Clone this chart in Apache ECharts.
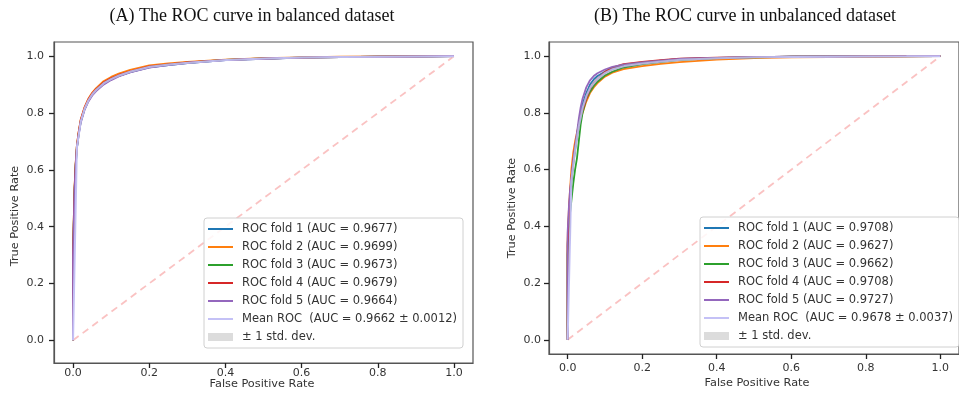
<!DOCTYPE html>
<html><head><meta charset="utf-8">
<script src="https://cdn.jsdelivr.net/npm/echarts@6/dist/echarts.min.js"></script>
<style>html,body{margin:0;padding:0;background:#fff;}#c{width:959px;height:396px;}</style>
</head><body><div id="c"></div>
<script>
// ---------- tick labels ----------
const xTicks = [0, 0.2, 0.4, 0.6, 0.8, 1.0];
const yTicks = [0, 0.2, 0.4, 0.6, 0.8, 1.0];

// mean ROC is sampled on an evenly spaced FPR grid (0, 0.0101, ...)
const meanFpr = [0, 0.0101, 0.0202, 0.0303, 0.0404, 0.0505, 0.0606, 0.0808, 0.101, 0.121, 0.152, 0.202, 0.253, 0.303, 0.404, 0.505, 0.606, 0.707, 0.808, 0.909, 1.0];

// ---------- panel A: balanced dataset ----------
const titleA = '(A) The ROC curve in balanced dataset';
const namesA = ['ROC fold 1 (AUC = 0.9677)', 'ROC fold 2 (AUC = 0.9699)', 'ROC fold 3 (AUC = 0.9673)',
                'ROC fold 4 (AUC = 0.9679)', 'ROC fold 5 (AUC = 0.9664)'];
const meanNameA = 'Mean ROC  (AUC = 0.9662 \u00b1 0.0012)';
const fprA  = [0, 0, 0.002, 0.004, 0.007, 0.01, 0.015, 0.02, 0.03, 0.04, 0.05, 0.06, 0.08, 0.1, 0.12, 0.15, 0.2, 0.25, 0.3, 0.4, 0.5, 0.6, 0.7, 0.8, 0.9, 1.0];
const tprA1 = [0, 0.29, 0.41, 0.52, 0.615, 0.675, 0.728, 0.768, 0.813, 0.843, 0.864, 0.879, 0.903, 0.918, 0.931, 0.944, 0.961, 0.969, 0.976, 0.986, 0.991, 0.995, 0.997, 0.998, 0.999, 1];
const tprA2 = [0, 0.31, 0.43, 0.54, 0.625, 0.685, 0.735, 0.775, 0.82, 0.85, 0.871, 0.887, 0.912, 0.927, 0.939, 0.952, 0.968, 0.975, 0.98, 0.988, 0.993, 0.996, 0.998, 0.999, 1, 1];
const tprA3 = [0, 0.30, 0.42, 0.53, 0.62, 0.68, 0.73, 0.77, 0.814, 0.844, 0.864, 0.879, 0.904, 0.919, 0.931, 0.945, 0.962, 0.97, 0.977, 0.987, 0.992, 0.995, 0.997, 0.998, 0.999, 1];
const tprA4 = [0, 0.31, 0.43, 0.535, 0.625, 0.685, 0.735, 0.775, 0.818, 0.848, 0.868, 0.883, 0.907, 0.922, 0.934, 0.947, 0.964, 0.971, 0.978, 0.987, 0.992, 0.995, 0.997, 0.998, 0.999, 1];
const tprA5 = [0, 0.29, 0.41, 0.525, 0.615, 0.675, 0.725, 0.765, 0.81, 0.84, 0.861, 0.876, 0.9, 0.916, 0.929, 0.943, 0.96, 0.969, 0.976, 0.986, 0.991, 0.995, 0.997, 0.998, 0.999, 1];
const meanA = [0, 0.68, 0.77, 0.815, 0.845, 0.866, 0.881, 0.905, 0.92, 0.932, 0.946, 0.963, 0.971, 0.977, 0.987, 0.992, 0.995, 0.997, 0.998, 0.999, 1];
const stdA  = [0, 0.005, 0.004, 0.004, 0.004, 0.004, 0.004, 0.004, 0.004, 0.004, 0.003, 0.003, 0.003, 0.002, 0.001, 0.001, 0.001, 0.001, 0.001, 0.001, 0];

// ---------- panel B: unbalanced dataset ----------
const titleB = '(B) The ROC curve in unbalanced dataset';
const namesB = ['ROC fold 1 (AUC = 0.9708)', 'ROC fold 2 (AUC = 0.9627)', 'ROC fold 3 (AUC = 0.9662)',
                'ROC fold 4 (AUC = 0.9708)', 'ROC fold 5 (AUC = 0.9727)'];
const meanNameB = 'Mean ROC  (AUC = 0.9678 \u00b1 0.0037)';
const fprB  = [0, 0, 0.003, 0.006, 0.01, 0.015, 0.02, 0.025, 0.03, 0.035, 0.04, 0.05, 0.06, 0.07, 0.08, 0.1, 0.12, 0.15, 0.2, 0.25, 0.3, 0.4, 0.5, 0.6, 0.8, 1.0];
const tprB1 = [0, 0.34, 0.43, 0.50, 0.56, 0.62, 0.67, 0.72, 0.76, 0.80, 0.83, 0.87, 0.9, 0.918, 0.93, 0.945, 0.958, 0.968, 0.977, 0.984, 0.99, 0.994, 0.997, 0.998, 0.999, 1];
const tprB2 = [0, 0.36, 0.45, 0.52, 0.6, 0.66, 0.7, 0.73, 0.76, 0.78, 0.8, 0.84, 0.87, 0.89, 0.905, 0.928, 0.942, 0.954, 0.965, 0.973, 0.979, 0.988, 0.993, 0.996, 0.998, 1];
const tprB3 = [0, 0.3, 0.38, 0.44, 0.49, 0.55, 0.6, 0.64, 0.7, 0.76, 0.8, 0.85, 0.875, 0.895, 0.91, 0.932, 0.945, 0.96, 0.972, 0.98, 0.987, 0.993, 0.996, 0.998, 0.999, 1];
const tprB4 = [0, 0.33, 0.42, 0.5, 0.57, 0.63, 0.68, 0.72, 0.76, 0.79, 0.81, 0.85, 0.885, 0.905, 0.92, 0.945, 0.96, 0.972, 0.98, 0.986, 0.991, 0.995, 0.997, 0.998, 0.999, 1];
const tprB5 = [0, 0.38, 0.46, 0.52, 0.57, 0.63, 0.68, 0.73, 0.78, 0.82, 0.85, 0.89, 0.915, 0.93, 0.94, 0.953, 0.962, 0.97, 0.978, 0.984, 0.99, 0.994, 0.997, 0.998, 0.999, 1];
const meanB = [0, 0.56, 0.67, 0.755, 0.818, 0.86, 0.889, 0.921, 0.941, 0.954, 0.965, 0.974, 0.981, 0.987, 0.993, 0.996, 0.997, 0.998, 0.999, 0.9995, 1];
const stdB  = [0, 0.035, 0.032, 0.028, 0.018, 0.016, 0.015, 0.011, 0.01, 0.009, 0.008, 0.007, 0.006, 0.005, 0.004, 0.003, 0.001, 0.001, 0.001, 0.001, 0];

const stdName = '\u00b1 1 std. dev.';
const diag = [[0, 0], [1, 1]];

const foldColors = ['#1f77b4', '#ff7f0e', '#2ca02c', '#d62728', '#9467bd'];
const meanColor = '#c4c1f6';
const bandColor = 'rgba(128,128,128,0.22)';
const txt = '#333';
const font = 'DejaVu Sans';
// legend line icon: thin bar in the middle, zero-area anchors keep the 8px box
const lineIcon = 'path://M0,0L25,0Z M0,3L25,3L25,5L0,5Z M0,8L25,8Z';

function pairs(fpr, tpr) { return fpr.map((f, i) => [f, tpr[i]]); }

function panelSeries(idx, names, meanName, fpr, tprs, mean, std) {
  const s = [];
  tprs.forEach((t, k) => s.push({
    type: 'line', name: names[k], xAxisIndex: idx, yAxisIndex: idx,
    data: pairs(fpr, t), symbol: 'none', lineStyle: { width: 1.8, color: foldColors[k] },
    itemStyle: { color: foldColors[k] }, z: 3 + k
  }));
  s.push({
    type: 'line', name: 'Chance', xAxisIndex: idx, yAxisIndex: idx, data: diag, symbol: 'none',
    lineStyle: { width: 1.8, type: [7, 5], color: 'rgba(240,70,70,0.33)' }, z: 2
  });
  s.push({
    type: 'line', name: meanName, xAxisIndex: idx, yAxisIndex: idx, data: pairs(meanFpr, mean), symbol: 'none',
    lineStyle: { width: 2, color: meanColor }, itemStyle: { color: meanColor }, z: 9
  });
  s.push({
    type: 'custom', name: stdName, xAxisIndex: idx, yAxisIndex: idx, data: [[meanFpr[0], mean[0]]],
    itemStyle: { color: '#dcdcdc' }, z: 10, silent: true,
    renderItem: function (params, api) {
      if (params.dataIndex !== 0) return null;
      const pts = [];
      for (let i = 0; i < meanFpr.length; i++) pts.push(api.coord([meanFpr[i], Math.min(1, mean[i] + std[i])]));
      for (let i = meanFpr.length - 1; i >= 0; i--) pts.push(api.coord([meanFpr[i], Math.max(0, mean[i] - std[i])]));
      return { type: 'polygon', shape: { points: pts }, style: { fill: bandColor } };
    }
  });
  return s;
}

function legendFor(names, meanName, left, top) {
  const data = names.map((n, k) => ({ name: n, icon: lineIcon, itemStyle: { color: foldColors[k], borderWidth: 0 } }));
  data.push({ name: meanName, icon: lineIcon, itemStyle: { color: meanColor, borderWidth: 0 } });
  data.push({ name: stdName, icon: 'rect', itemStyle: { color: '#dcdcdc', borderWidth: 0 } });
  return {
    data, orient: 'vertical', left, top, itemWidth: 25, itemHeight: 8, itemGap: 4,
    padding: [4, 6, 4, 4], backgroundColor: 'rgba(255,255,255,0.85)', borderColor: '#d0d0d0',
    borderWidth: 1, borderRadius: 3, selectedMode: false,
    itemStyle: { borderWidth: 0 }, lineStyle: { width: 0 },
    textStyle: { fontFamily: font, fontSize: 11.5, color: txt, lineHeight: 14, padding: [0, 0, 0, 4] }
  };
}

function xAxis(idx, margin) {
  return {
    gridIndex: idx, type: 'value', min: -0.05, max: 1.05,
    axisLine: { show: true, onZero: false, lineStyle: { color: '#555', width: 1.2 } }, splitLine: { show: false },
    axisTick: { show: true, inside: false, length: 5, customValues: xTicks, lineStyle: { color: '#222', width: 1.3 } },
    axisLabel: { customValues: xTicks, formatter: v => v.toFixed(1), margin, fontFamily: font, fontSize: 11, color: txt }
  };
}
function yAxis(idx, min, margin) {
  return {
    gridIndex: idx, type: 'value', min: min, max: 1.05,
    axisLine: { show: true, onZero: false, lineStyle: { color: '#555', width: 1.2 } }, splitLine: { show: false },
    axisTick: { show: true, inside: false, length: 5, customValues: yTicks, lineStyle: { color: '#222', width: 1.3 } },
    axisLabel: { customValues: yTicks, formatter: v => v.toFixed(1), margin, fontFamily: font, fontSize: 11, color: txt }
  };
}

const chart = echarts.init(document.getElementById('c'), null, { renderer: 'canvas' });
chart.setOption({
  animation: false,
  backgroundColor: '#fff',
  grid: [
    { left: 54, top: 42, width: 419, height: 321, show: true, borderColor: '#555', borderWidth: 1.2, backgroundColor: 'transparent' },
    { left: 549, top: 42, width: 419, height: 312, show: true, borderColor: '#555', borderWidth: 1.2, backgroundColor: 'transparent' }
  ],
  xAxis: [xAxis(0, 5), xAxis(1, 9)],
  yAxis: [yAxis(0, -0.08, 10), yAxis(1, -0.05, 8)],
  legend: [legendFor(namesA, meanNameA, 204, 218), legendFor(namesB, meanNameB, 700, 217)],
  graphic: [
    { type: 'text', x: 252, y: 16, style: { text: titleA, font: '18px "Liberation Serif"', fill: '#111', align: 'center', verticalAlign: 'middle' } },
    { type: 'text', x: 745, y: 16, style: { text: titleB, font: '18px "Liberation Serif"', fill: '#111', align: 'center', verticalAlign: 'middle' } },
    { type: 'text', x: 262, y: 384, style: { text: 'False Positive Rate', font: '11.3px "DejaVu Sans"', fill: txt, align: 'center', verticalAlign: 'middle' } },
    { type: 'text', x: 757, y: 383, style: { text: 'False Positive Rate', font: '11.3px "DejaVu Sans"', fill: txt, align: 'center', verticalAlign: 'middle' } },
    { type: 'text', x: 15, y: 216, rotation: Math.PI / 2, style: { text: 'True Positive Rate', font: '11.3px "DejaVu Sans"', fill: txt, align: 'center', verticalAlign: 'middle' } },
    { type: 'text', x: 512, y: 208, rotation: Math.PI / 2, style: { text: 'True Positive Rate', font: '11.3px "DejaVu Sans"', fill: txt, align: 'center', verticalAlign: 'middle' } }
  ],
  series: panelSeries(0, namesA, meanNameA, fprA, [tprA1, tprA2, tprA3, tprA4, tprA5], meanA, stdA)
    .concat(panelSeries(1, namesB, meanNameB, fprB, [tprB1, tprB2, tprB3, tprB4, tprB5], meanB, stdB))
});
</script>
</body></html>
